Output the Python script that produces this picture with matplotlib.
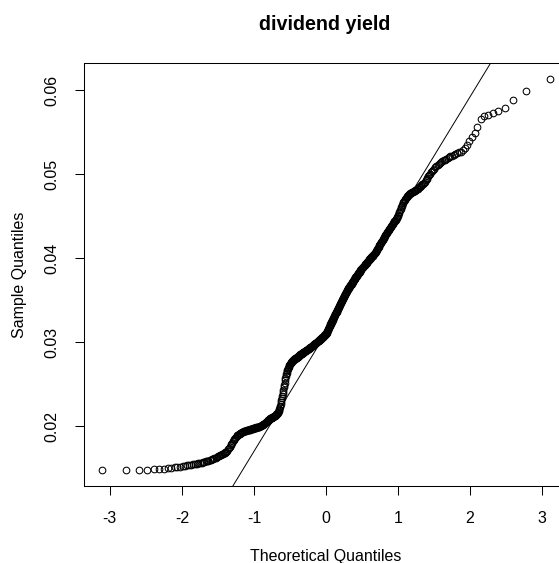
from statistics import NormalDist

import numpy as np
import matplotlib.pyplot as plt

plt.rcParams['font.family'] = ['Liberation Sans', 'DejaVu Sans']

# sorted dividend yields
dividend_yield = [
   0.01475, 0.01478, 0.01480, 0.01483, 0.01486, 0.01490, 0.01493, 0.01498, 0.01504, 0.01509,
   0.01514, 0.01520, 0.01524, 0.01528, 0.01533, 0.01537, 0.01541, 0.01546, 0.01550, 0.01554,
   0.01559, 0.01563, 0.01568, 0.01572, 0.01577, 0.01583, 0.01588, 0.01592, 0.01597, 0.01603,
   0.01609, 0.01614, 0.01620, 0.01627, 0.01633, 0.01640, 0.01646, 0.01652, 0.01659, 0.01665,
   0.01671, 0.01678, 0.01684, 0.01691, 0.01699, 0.01710, 0.01724, 0.01738, 0.01754, 0.01771,
   0.01787, 0.01803, 0.01820, 0.01836, 0.01850, 0.01863, 0.01874, 0.01884, 0.01893, 0.01900,
   0.01906, 0.01912, 0.01917, 0.01921, 0.01926, 0.01930, 0.01934, 0.01938, 0.01940, 0.01943,
   0.01945, 0.01947, 0.01950, 0.01952, 0.01954, 0.01957, 0.01959, 0.01961, 0.01963, 0.01966,
   0.01968, 0.01970, 0.01972, 0.01974, 0.01977, 0.01979, 0.01981, 0.01983, 0.01985, 0.01987,
   0.01989, 0.01991, 0.01993, 0.01995, 0.01997, 0.01999, 0.02001, 0.02004, 0.02007, 0.02010,
   0.02014, 0.02018, 0.02023, 0.02027, 0.02032, 0.02036, 0.02041, 0.02045, 0.02050, 0.02055,
   0.02060, 0.02065, 0.02070, 0.02075, 0.02080, 0.02085, 0.02090, 0.02093, 0.02096, 0.02099,
   0.02102, 0.02105, 0.02108, 0.02111, 0.02114, 0.02117, 0.02120, 0.02124, 0.02128, 0.02132,
   0.02137, 0.02142, 0.02148, 0.02155, 0.02163, 0.02172, 0.02183, 0.02195, 0.02209, 0.02225,
   0.02243, 0.02263, 0.02285, 0.02308, 0.02332, 0.02357, 0.02383, 0.02410, 0.02437, 0.02464,
   0.02491, 0.02518, 0.02545, 0.02572, 0.02596, 0.02618, 0.02638, 0.02656, 0.02672, 0.02686,
   0.02698, 0.02709, 0.02719, 0.02728, 0.02736, 0.02744, 0.02751, 0.02757, 0.02763, 0.02768,
   0.02773, 0.02782, 0.02787, 0.02790, 0.02794, 0.02797, 0.02800, 0.02803, 0.02806, 0.02809,
   0.02812, 0.02815, 0.02818, 0.02821, 0.02824, 0.02827, 0.02830, 0.02833, 0.02836, 0.02840,
   0.02844, 0.02848, 0.02852, 0.02856, 0.02859, 0.02862, 0.02865, 0.02868, 0.02871, 0.02874,
   0.02877, 0.02880, 0.02883, 0.02886, 0.02889, 0.02892, 0.02895, 0.02898, 0.02901, 0.02904,
   0.02907, 0.02910, 0.02913, 0.02916, 0.02919, 0.02922, 0.02925, 0.02928, 0.02931, 0.02934,
   0.02937, 0.02940, 0.02943, 0.02946, 0.02949, 0.02952, 0.02955, 0.02958, 0.02961, 0.02964,
   0.02968, 0.02971, 0.02975, 0.02978, 0.02982, 0.02985, 0.02989, 0.02992, 0.02996, 0.02999,
   0.03003, 0.03006, 0.03010, 0.03013, 0.03017, 0.03020, 0.03024, 0.03027, 0.03031, 0.03034,
   0.03038, 0.03041, 0.03045, 0.03048, 0.03052, 0.03055, 0.03059, 0.03062, 0.03066, 0.03069,
   0.03073, 0.03077, 0.03081, 0.03085, 0.03089, 0.03093, 0.03097, 0.03102, 0.03108, 0.03116,
   0.03124, 0.03133, 0.03142, 0.03151, 0.03160, 0.03169, 0.03178, 0.03187, 0.03196, 0.03205,
   0.03214, 0.03223, 0.03231, 0.03239, 0.03247, 0.03255, 0.03263, 0.03271, 0.03280, 0.03289,
   0.03298, 0.03307, 0.03316, 0.03325, 0.03334, 0.03342, 0.03350, 0.03358, 0.03366, 0.03375,
   0.03383, 0.03391, 0.03399, 0.03407, 0.03415, 0.03424, 0.03433, 0.03442, 0.03451, 0.03460,
   0.03469, 0.03477, 0.03485, 0.03493, 0.03501, 0.03509, 0.03517, 0.03525, 0.03533, 0.03541,
   0.03549, 0.03557, 0.03565, 0.03573, 0.03581, 0.03589, 0.03597, 0.03606, 0.03615, 0.03622,
   0.03629, 0.03636, 0.03642, 0.03648, 0.03655, 0.03661, 0.03668, 0.03674, 0.03681, 0.03687,
   0.03694, 0.03700, 0.03707, 0.03713, 0.03720, 0.03726, 0.03733, 0.03739, 0.03746, 0.03752,
   0.03759, 0.03765, 0.03772, 0.03778, 0.03785, 0.03791, 0.03798, 0.03804, 0.03811, 0.03817,
   0.03824, 0.03830, 0.03837, 0.03843, 0.03850, 0.03857, 0.03862, 0.03868, 0.03874, 0.03879,
   0.03885, 0.03891, 0.03896, 0.03902, 0.03908, 0.03914, 0.03919, 0.03925, 0.03931, 0.03936,
   0.03942, 0.03948, 0.03953, 0.03959, 0.03965, 0.03970, 0.03976, 0.03982, 0.03987, 0.03993,
   0.03999, 0.04004, 0.04010, 0.04016, 0.04022, 0.04027, 0.04033, 0.04039, 0.04044, 0.04050,
   0.04056, 0.04061, 0.04067, 0.04075, 0.04084, 0.04093, 0.04102, 0.04111, 0.04120, 0.04129,
   0.04138, 0.04147, 0.04156, 0.04165, 0.04174, 0.04183, 0.04192, 0.04201, 0.04210, 0.04219,
   0.04228, 0.04237, 0.04246, 0.04255, 0.04264, 0.04274, 0.04284, 0.04294, 0.04304, 0.04313,
   0.04322, 0.04331, 0.04340, 0.04349, 0.04358, 0.04367, 0.04376, 0.04385, 0.04394, 0.04403,
   0.04412, 0.04421, 0.04430, 0.04440, 0.04450, 0.04460, 0.04470, 0.04480, 0.04492, 0.04505,
   0.04520, 0.04536, 0.04553, 0.04570, 0.04588, 0.04606, 0.04623, 0.04640, 0.04656, 0.04671,
   0.04685, 0.04698, 0.04710, 0.04721, 0.04731, 0.04740, 0.04748, 0.04755, 0.04762, 0.04768,
   0.04774, 0.04780, 0.04786, 0.04791, 0.04796, 0.04801, 0.04806, 0.04811, 0.04817, 0.04824,
   0.04831, 0.04838, 0.04845, 0.04853, 0.04861, 0.04870, 0.04880, 0.04890, 0.04902, 0.04915,
   0.04929, 0.04944, 0.04960, 0.04976, 0.04992, 0.05008, 0.05023, 0.05038, 0.05052, 0.05068,
   0.05083, 0.05097, 0.05110, 0.05122, 0.05134, 0.05145, 0.05156, 0.05166, 0.05176, 0.05186,
   0.05196, 0.05206, 0.05215, 0.05224, 0.05233, 0.05242, 0.05251, 0.05261, 0.05272, 0.05290,
   0.05315, 0.05350, 0.05400, 0.05450, 0.05490, 0.05560, 0.05660, 0.05690, 0.05710, 0.05730,
   0.05750, 0.05790, 0.05890, 0.05990, 0.06140,
]

xticks = [-3, -2, -1, 0, 1, 2, 3]
yticks = [0.02, 0.03, 0.04, 0.05, 0.06]

y = np.sort(np.array(dividend_yield))
n = len(y)

# normal scores as in qqnorm: ppoints(n) with a = 1/2
normal = NormalDist()
x = np.array([normal.inv_cdf((i - 0.5) / n) for i in range(1, n + 1)])

# reference line through the first and third quartiles
qy = np.quantile(y, [0.25, 0.75])
qx = np.array([normal.inv_cdf(0.25), normal.inv_cdf(0.75)])
slope = (qy[1] - qy[0]) / (qx[1] - qx[0])
intercept = qy[0] - slope * qx[0]

W, H = 559, 563
fig = plt.figure(figsize=(W / 100, H / 100), dpi=100)
ax = fig.add_axes([84 / W, 1 - 486 / H, (568 - 84) / W, (486 - 63) / H])

ax.plot(x, y, linestyle='none', marker='o', markersize=4.8,
        markerfacecolor='none', markeredgecolor='black', markeredgewidth=0.75)
ax.axline((0, intercept), slope=slope, color='black', linewidth=0.7)

dx = 0.04 * (x.max() - x.min())
dy = 0.04 * (y.max() - y.min())
ax.set_xlim(x.min() - dx, x.max() + dx)
ax.set_ylim(y.min() - dy, y.max() + dy)

ax.set_xticks(xticks)
ax.set_xticklabels([str(t) for t in xticks])
ax.set_yticks(yticks)
ax.set_yticklabels(['%.2f' % t for t in yticks], rotation=90, va='center')

for side in ax.spines.values():
   side.set_linewidth(0.75)
   side.set_color('black')

ax.tick_params(axis='both', direction='out', length=6.5, width=0.75,
               labelsize=11.5, colors='black')
ax.tick_params(axis='x', pad=11.5)
ax.tick_params(axis='y', pad=11)

ax.set_xlabel('Theoretical Quantiles', fontsize=11.5)
ax.set_ylabel('Sample Quantiles', fontsize=11.5)
ax.xaxis.set_label_coords(0.5, (486 - 556) / (486 - 63), transform=ax.transAxes)
ax.yaxis.set_label_coords((19 - 84) / (568 - 84), 0.5, transform=ax.transAxes)
ax.xaxis.label.set_va('center')
ax.yaxis.label.set_va('center')

fig.text(325 / W, 1 - 24 / H, 'dividend yield', ha='center', va='center',
         fontsize=14.2, fontweight='bold')

fig.savefig('out.png', dpi=100)
